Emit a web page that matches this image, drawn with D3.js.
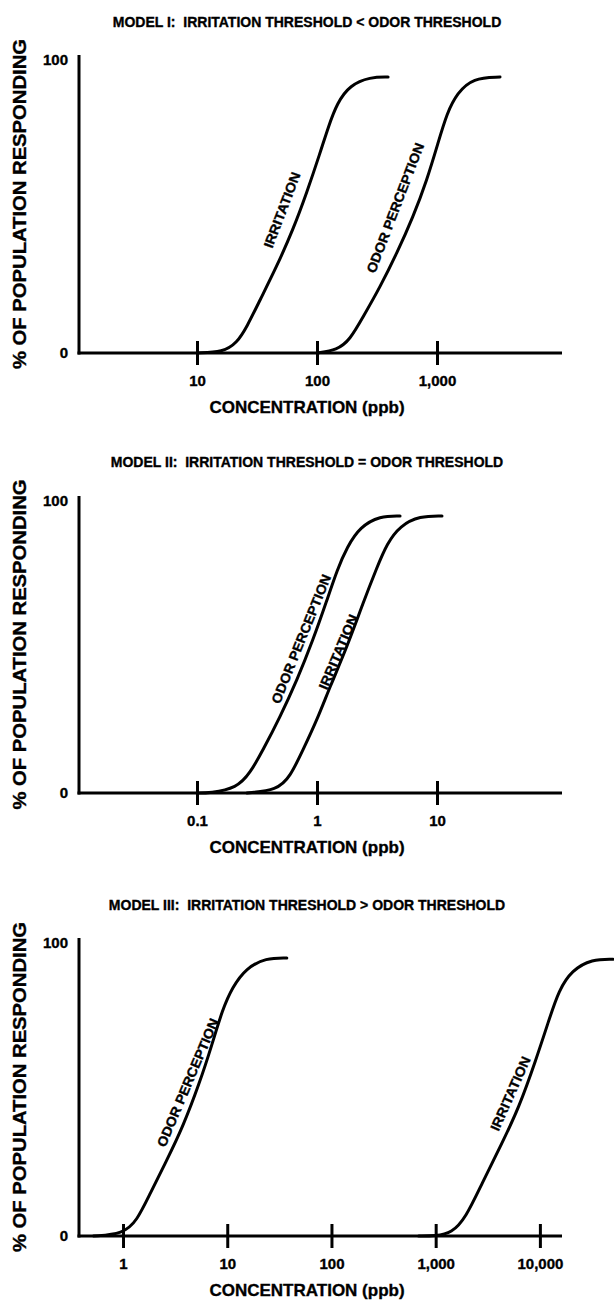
<!doctype html>
<html>
<head>
<script src="https://d3js.org/d3.v7.min.js"></script>
<style>
body { margin: 0; background: #fff; }
svg text { font-family: "Liberation Sans", Arial, sans-serif; font-weight: bold; fill: #000; stroke: #000; stroke-width: 0.35; white-space: pre; }
.curve { fill: none; stroke: #000; stroke-width: 3; stroke-linecap: round; }
.axis path, .axis line, .yline { stroke: #000; stroke-width: 3; }
</style>
</head>
<body>
<svg width="614" height="1309" id="chart"></svg>

<script>
var titles = [
  "MODEL I:  IRRITATION THRESHOLD < ODOR THRESHOLD",
  "MODEL II:  IRRITATION THRESHOLD = ODOR THRESHOLD",
  "MODEL III:  IRRITATION THRESHOLD > ODOR THRESHOLD"
];
var yTickLabels = [0, 100];
var xTicks1 = [10, 100, 1000];
var xTicks2 = [0.1, 1, 10];
var xTicks3 = [1, 10, 100, 1000, 10000];

// [concentration ppb, % responding]
var model1Irritation = [[10,0],[16.5,0.3],[21.5,3.4],[26,8.7],[33.5,17.8],[46,28.9],[63,41.3],[82,53.7],[106,67.1],[124,75.8],[147,83.9],[188,89.9],[277,92.6],[391,92.6]];
var model1Odor = [[100,0],[147,1],[188,4.4],[242,12.1],[335,22.1],[464,33.6],[631,45.6],[825,58.1],[1020,70.5],[1210,80.5],[1470,87.2],[1995,92.3],[3350,92.6]];
var model2Odor = [[0.1,0],[0.128,0],[0.215,1.7],[0.277,6.7],[0.355,14.5],[0.492,25.6],[0.681,38],[0.926,51.5],[1.21,64.9],[1.47,75.1],[1.78,82.8],[2.28,89.6],[3.35,93.3],[4.92,93.3]];
var model2Irritation = [[0.261,0],[0.464,1],[0.596,5.4],[0.764,14.5],[1,24.6],[1.28,35.7],[1.78,49.2],[2.42,64],[3.16,76],[3.83,84],[4.92,90],[7.2,93.3],[11,93.3]];
var model3Odor = [[0.52,0],[1,0.7],[1.36,5.1],[1.81,14.1],[2.62,25.3],[3.73,36.4],[5.41,51.2],[7.2,64.6],[8.96,75.8],[11.2,83.5],[15.2,89.9],[23.5,93.3],[37.3,93.3]];
var model3Irritation = [[687,0],[1000,0],[1425,1],[1942,6.1],[2767,17.5],[4310,31],[6280,43],[9150,59],[12200,72.4],[15200,82.5],[20300,89.2],[31600,92.9],[50300,92.9]];

// curve labels: [text, concentration, %, angle]
var labels1 = [["IRRITATION", 51, 48, -69], ["ODOR PERCEPTION", 447, 48.7, -69]];
var labels2 = [["ODOR PERCEPTION", 0.736, 51.9, -68], ["IRRITATION", 1.5, 47.5, -67]];
var labels3 = [["ODOR PERCEPTION", 4.17, 51.5, -67], ["IRRITATION", 5200, 47.8, -66]];

var panels = [
  { title: titles[0], ticks: xTicks1, domain: [1.039, 11000], zero: 353, top: 55,
    series: [model1Irritation, model1Odor], labels: labels1 },
  { title: titles[1], ticks: xTicks2, domain: [0.01039, 110], zero: 793, top: 496,
    series: [model2Odor, model2Irritation], labels: labels2 },
  { title: titles[2], ticks: xTicks3, domain: [0.378, 16300], zero: 1236, top: 938,
    series: [model3Odor, model3Irritation], labels: labels3 }
];

var svg = d3.select("#chart");
var left = 79, right = 562;
var fmt = d3.format(",");

panels.forEach(function(p) {
  var x = d3.scaleLog().domain(p.domain).range([left, right]);
  var y = d3.scaleLinear().domain([0, 100]).range([p.zero, p.top]);
  var g = svg.append("g");

  g.append("text")
    .attr("x", 307).attr("y", p.zero - 331)
    .attr("dy", "0.36em")
    .attr("text-anchor", "middle")
    .style("font-size", "14px")
    .text(p.title);

  // y axis
  g.append("line").attr("class", "yline")
    .attr("x1", left).attr("x2", left)
    .attr("y1", y(100)).attr("y2", y(0) + 1.5);

  g.selectAll(".ylab").data(yTickLabels).enter()
    .append("text")
    .attr("x", 68)
    .attr("y", function(d) { return d == 100 ? y(d) + 5 : y(d); })
    .attr("dy", "0.36em")
    .attr("text-anchor", "end")
    .style("font-size", "15px")
    .text(function(d) { return d; });

  g.append("text")
    .attr("transform", "translate(26," + ((p.zero + p.top) / 2) + ") rotate(-90)")
    .attr("text-anchor", "middle")
    .attr("textLength", 330)
    .attr("lengthAdjust", "spacingAndGlyphs")
    .style("font-size", "18px")
    .text("% OF POPULATION RESPONDING");

  // x axis
  var ax = g.append("g").attr("class", "axis")
    .attr("transform", "translate(0," + p.zero + ")")
    .call(d3.axisBottom(x).tickValues(p.ticks).tickFormat(fmt).tickSizeOuter(0).tickSize(12));
  ax.attr("font-family", null).attr("font-size", null);
  ax.select(".domain").attr("d", "M" + (left - 1.5) + ",0H" + right);
  ax.selectAll(".tick line").attr("y1", -12).attr("y2", 12);
  ax.selectAll(".tick text")
    .attr("y", 28).attr("dy", "0.36em")
    .style("font-size", "15px");

  g.append("text")
    .attr("x", 307).attr("y", p.zero + 54)
    .attr("dy", "0.36em")
    .attr("text-anchor", "middle")
    .style("font-size", "17px")
    .text("CONCENTRATION (ppb)");

  var line = d3.line()
    .x(function(d) { return x(d[0]); })
    .y(function(d) { return y(d[1]); })
    .curve(d3.curveBasis);

  g.selectAll(".curve").data(p.series).enter()
    .append("path")
    .attr("class", "curve")
    .attr("d", line);

  g.selectAll(".clabel").data(p.labels).enter()
    .append("text")
    .attr("transform", function(d) {
      return "translate(" + x(d[1]) + "," + y(d[2]) + ") rotate(" + d[3] + ")";
    })
    .attr("text-anchor", "middle")
    .attr("dy", "0.36em")
    .attr("textLength", function(d) { return d[0].length > 10 ? 138 : 80; })
    .attr("lengthAdjust", "spacingAndGlyphs")
    .style("font-size", "13.5px")
    .text(function(d) { return d[0]; });
});
</script>
</body>
</html>
